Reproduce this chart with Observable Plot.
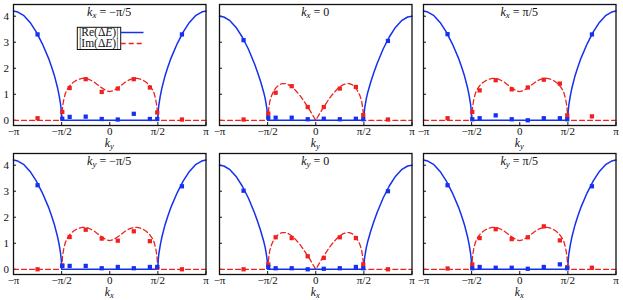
<!DOCTYPE html>
<html><head><meta charset="utf-8">
<script src="https://cdn.jsdelivr.net/npm/d3@7"></script>
<script src="https://cdn.jsdelivr.net/npm/@observablehq/plot@0.6"></script>
<style>
body{margin:0;background:#fff;}
#chart{position:relative;width:623px;height:300px;overflow:hidden;font-family:"Liberation Serif","DejaVu Serif",serif;}
#chart svg{position:absolute;}
</style></head><body><div id="chart"></div>
<script>
// ---- data ----
const kGrid = [-3.1416, -3.0, -2.8, -2.6, -2.4, -2.2, -2.0, -1.9, -1.8, -1.7, -1.65, -1.6, -1.58, -1.5708,
  -1.54, -1.5, -1.45, -1.4, -1.3, -1.2, -1.1, -1.0, -0.9, -0.8, -0.7, -0.6, -0.5, -0.4, -0.3, -0.2, -0.1, 0,
  0.1, 0.2, 0.3, 0.4, 0.5, 0.6, 0.7, 0.8, 0.9, 1.0, 1.1, 1.2, 1.3, 1.4, 1.45, 1.5, 1.54,
  1.5708, 1.58, 1.6, 1.65, 1.7, 1.8, 1.9, 2.0, 2.2, 2.4, 2.6, 2.8, 3.0, 3.1416];
// |Re(ΔE)| and |Im(ΔE)| curves for the ±π/5 panels
const reSide = [4.20, 4.16, 4.02, 3.76, 3.40, 2.94, 2.39, 2.06, 1.69, 1.23, 0.94, 0.57, 0.33, 0,
  0, 0, 0, 0, 0, 0, 0, 0, 0, 0, 0, 0, 0, 0, 0, 0, 0, 0,
  0, 0, 0, 0, 0, 0, 0, 0, 0, 0, 0, 0, 0, 0, 0, 0, 0,
  0, 0.33, 0.57, 0.94, 1.23, 1.69, 2.06, 2.39, 2.94, 3.40, 3.76, 4.02, 4.16, 4.20];
const imSide = [0, 0, 0, 0, 0, 0, 0, 0, 0, 0, 0, 0, 0, 0,
  0.52, 0.80, 1.03, 1.17, 1.34, 1.45, 1.53, 1.58, 1.61, 1.61, 1.58, 1.53, 1.46, 1.37, 1.28, 1.20, 1.13, 1.10,
  1.13, 1.20, 1.28, 1.37, 1.46, 1.53, 1.58, 1.61, 1.61, 1.58, 1.53, 1.45, 1.34, 1.17, 1.03, 0.80, 0.52,
  0, 0, 0, 0, 0, 0, 0, 0, 0, 0, 0, 0, 0, 0];
// curves for the k = 0 panels
const reZero = [4.00, 3.97, 3.83, 3.57, 3.20, 2.74, 2.17, 1.85, 1.49, 1.08, 0.83, 0.49, 0.27, 0,
  0, 0, 0, 0, 0, 0, 0, 0, 0, 0, 0, 0, 0, 0, 0, 0, 0, 0,
  0, 0, 0, 0, 0, 0, 0, 0, 0, 0, 0, 0, 0, 0, 0, 0, 0,
  0, 0.27, 0.49, 0.83, 1.08, 1.49, 1.85, 2.17, 2.74, 3.20, 3.57, 3.83, 3.97, 4.00];
const imZero = [0, 0, 0, 0, 0, 0, 0, 0, 0, 0, 0, 0, 0, 0,
  0.40, 0.73, 0.92, 1.06, 1.25, 1.36, 1.41, 1.41, 1.37, 1.30, 1.20, 1.07, 0.93, 0.76, 0.58, 0.40, 0.20, 0,
  0.20, 0.40, 0.58, 0.76, 0.93, 1.07, 1.20, 1.30, 1.37, 1.41, 1.41, 1.36, 1.25, 1.06, 0.92, 0.73, 0.40,
  0, 0, 0, 0, 0, 0, 0, 0, 0, 0, 0, 0, 0, 0];

// numerical points (squares)
const markerK = [-2.356, -1.55, -1.309, -0.785, -0.262, 0.262, 0.785, 1.309, 1.55, 2.356];
const markRe = [
  [3.30, 0.06, 0.13, 0.14, 0.05, 0.03, 0.25, 0.05, 0.05, 3.30],
  [3.08, 0.10, 0.10, 0.10, 0.04, 0.06, 0.04, 0.06, 0.04, 3.05],
  [3.31, 0.04, 0.08, 0.19, 0.04, 0.00, 0.08, 0.08, 0.04, 3.30],
  [3.23, 0.13, 0.13, 0.13, 0.04, 0.09, 0.04, 0.09, 0.09, 3.19],
  [3.02, 0.09, 0.04, 0.04, 0.00, 0.02, 0.04, 0.09, 0.04, 3.00],
  [3.23, 0.04, 0.09, 0.06, 0.06, 0.02, 0.09, 0.19, 0.04, 3.19]
];
const markIm = [
  [0.08, 0.32, 1.24, 1.58, 1.09, 1.22, 1.58, 1.26, 0.30, 0.03],
  [0.03, 0.26, 1.06, 1.31, 0.51, 0.51, 1.22, 1.28, 0.20, 0.03],
  [0.08, 0.32, 1.15, 1.54, 1.19, 1.26, 1.56, 1.41, 0.19, 0.15],
  [0.00, 0.15, 1.24, 1.52, 1.18, 1.10, 1.46, 1.08, 0.06, 0.00],
  [0.00, 0.19, 1.23, 1.20, 0.50, 0.44, 1.23, 1.20, 0.19, 0.00],
  [0.03, 0.19, 1.20, 1.54, 1.16, 1.23, 1.65, 1.11, 0.08, 0.06]
];
const titleVar = ["x", "x", "x", "y", "y", "y"];
const titleVal = ["−π/5", "0", "π/5", "−π/5", "0", "π/5"];
const axisVar = ["y", "y", "y", "x", "x", "x"];
const xTicks = [-Math.PI, -Math.PI / 2, 0, Math.PI / 2, Math.PI];
const xTickLabels = ["−π", "−π/2", "0", "π/2", "π"];
const yTicks = [0, 1, 2, 3, 4];
const legendLabels = [["|Re(Δ", "E", ")|"], ["|Im(Δ", "E", ")|"]];

// ---- style / layout ----
const BLUE = "#1530ee", RED = "#f0201e";
const colLeft = [12.7, 218.5, 422.8], rowTop = [4, 153];
const frameW = 192.5, frameH = 121;
const mL = 16, mR = 6, mT = 4, mB = 42;
const chart = document.getElementById("chart");

for (let p = 0; p < 6; p++) {
  const col = p % 3, row = Math.floor(p / 3);
  const isZero = col === 1;
  const re = isZero ? reZero : reSide, im = isZero ? imZero : imSide;
  const curve = kGrid.map((k, i) => ({k, re: re[i], im: im[i]}));
  const pts = markerK.map((k, i) => ({k, re: markRe[p][i], im: markIm[p][i]}));
  const el = Plot.plot({
    width: frameW + mL + mR, height: frameH + mT + mB,
    marginLeft: mL, marginRight: mR, marginTop: mT, marginBottom: mB,
    style: {background: "transparent", overflow: "visible", fontFamily: "'Liberation Serif', serif", fontSize: "11px", color: "#111"},
    x: {domain: [-Math.PI, Math.PI]},
    y: {domain: [-0.2, 4.45]},
    marks: [
      Plot.axisX(xTicks, {tickSize: -3, tickPadding: 5, label: null,
        tickFormat: d => xTickLabels[xTicks.indexOf(d)]}),
      Plot.axisY(yTicks, {tickSize: -3, tickPadding: 7.5, label: null,
        tickFormat: col === 0 ? d => String(d) : () => ""}),
      Plot.line(curve, {x: "k", y: "im", stroke: RED, strokeWidth: 1.3, strokeDasharray: "5,3"}),
      Plot.line(curve, {x: "k", y: "re", stroke: BLUE, strokeWidth: 1.5}),
      Plot.dot(pts, {x: "k", y: "im", symbol: "square", r: 2.4, fill: RED, stroke: "none"}),
      Plot.dot(pts, {x: "k", y: "re", symbol: "square", r: 2.4, fill: BLUE, stroke: "none"}),
      Plot.frame({stroke: "#111", strokeWidth: 1.3})
    ]
  });
  el.style.left = (colLeft[col] - mL) + "px";
  el.style.top = (rowTop[row] - mT) + "px";
  const xs = el.scale("x");
  const cx = xs.apply(0);
  const svg = d3.select(el);
  // title
  const t = svg.append("text").attr("x", cx).attr("y", mT + 11.5).attr("text-anchor", "middle")
    .attr("font-family", "'Liberation Serif', serif").attr("font-size", 12).attr("fill", "#111");
  t.append("tspan").attr("font-style", "italic").text("k");
  t.append("tspan").attr("font-style", "italic").attr("font-size", 9).attr("dy", 2.5).text(titleVar[p]);
  t.append("tspan").attr("dy", -2.5).text(" = " + titleVal[p]);
  // axis label
  const a = svg.append("text").attr("x", cx).attr("y", mT + frameH + 21.5).attr("text-anchor", "middle")
    .attr("font-family", "'Liberation Serif', serif").attr("font-size", 11.5).attr("fill", "#111");
  a.append("tspan").attr("font-style", "italic").text("k");
  a.append("tspan").attr("font-style", "italic").attr("font-size", 8.5).attr("dy", 2.5).text(axisVar[p]);
  chart.appendChild(el);
}

// legend (in the first panel)
const lg = d3.select(chart).append("svg").attr("width", 623).attr("height", 300)
  .style("left", "0px").style("top", "0px").style("pointer-events", "none");
lg.append("rect").attr("x", 77.3).attr("y", 27.3).attr("width", 43.4).attr("height", 22.2)
  .attr("fill", "white").attr("stroke", "#111").attr("stroke-width", 1);
const legendColors = [BLUE, RED], legendDash = [null, "5,3"];
legendLabels.forEach((parts, i) => {
  const y = 36.3 + i * 11;
  const tx = lg.append("text").attr("x", 79).attr("y", y).attr("font-family", "'Liberation Serif', serif")
    .attr("font-size", 11.5).attr("fill", "#111");
  tx.append("tspan").text(parts[0]);
  tx.append("tspan").attr("font-style", "italic").text(parts[1]);
  tx.append("tspan").text(parts[2]);
  lg.append("line").attr("x1", 120.7).attr("x2", 143.5).attr("y1", y - 3.8).attr("y2", y - 3.8)
    .attr("stroke", legendColors[i]).attr("stroke-width", i ? 1.3 : 1.5)
    .attr("stroke-dasharray", legendDash[i]);
});
</script></body></html>
